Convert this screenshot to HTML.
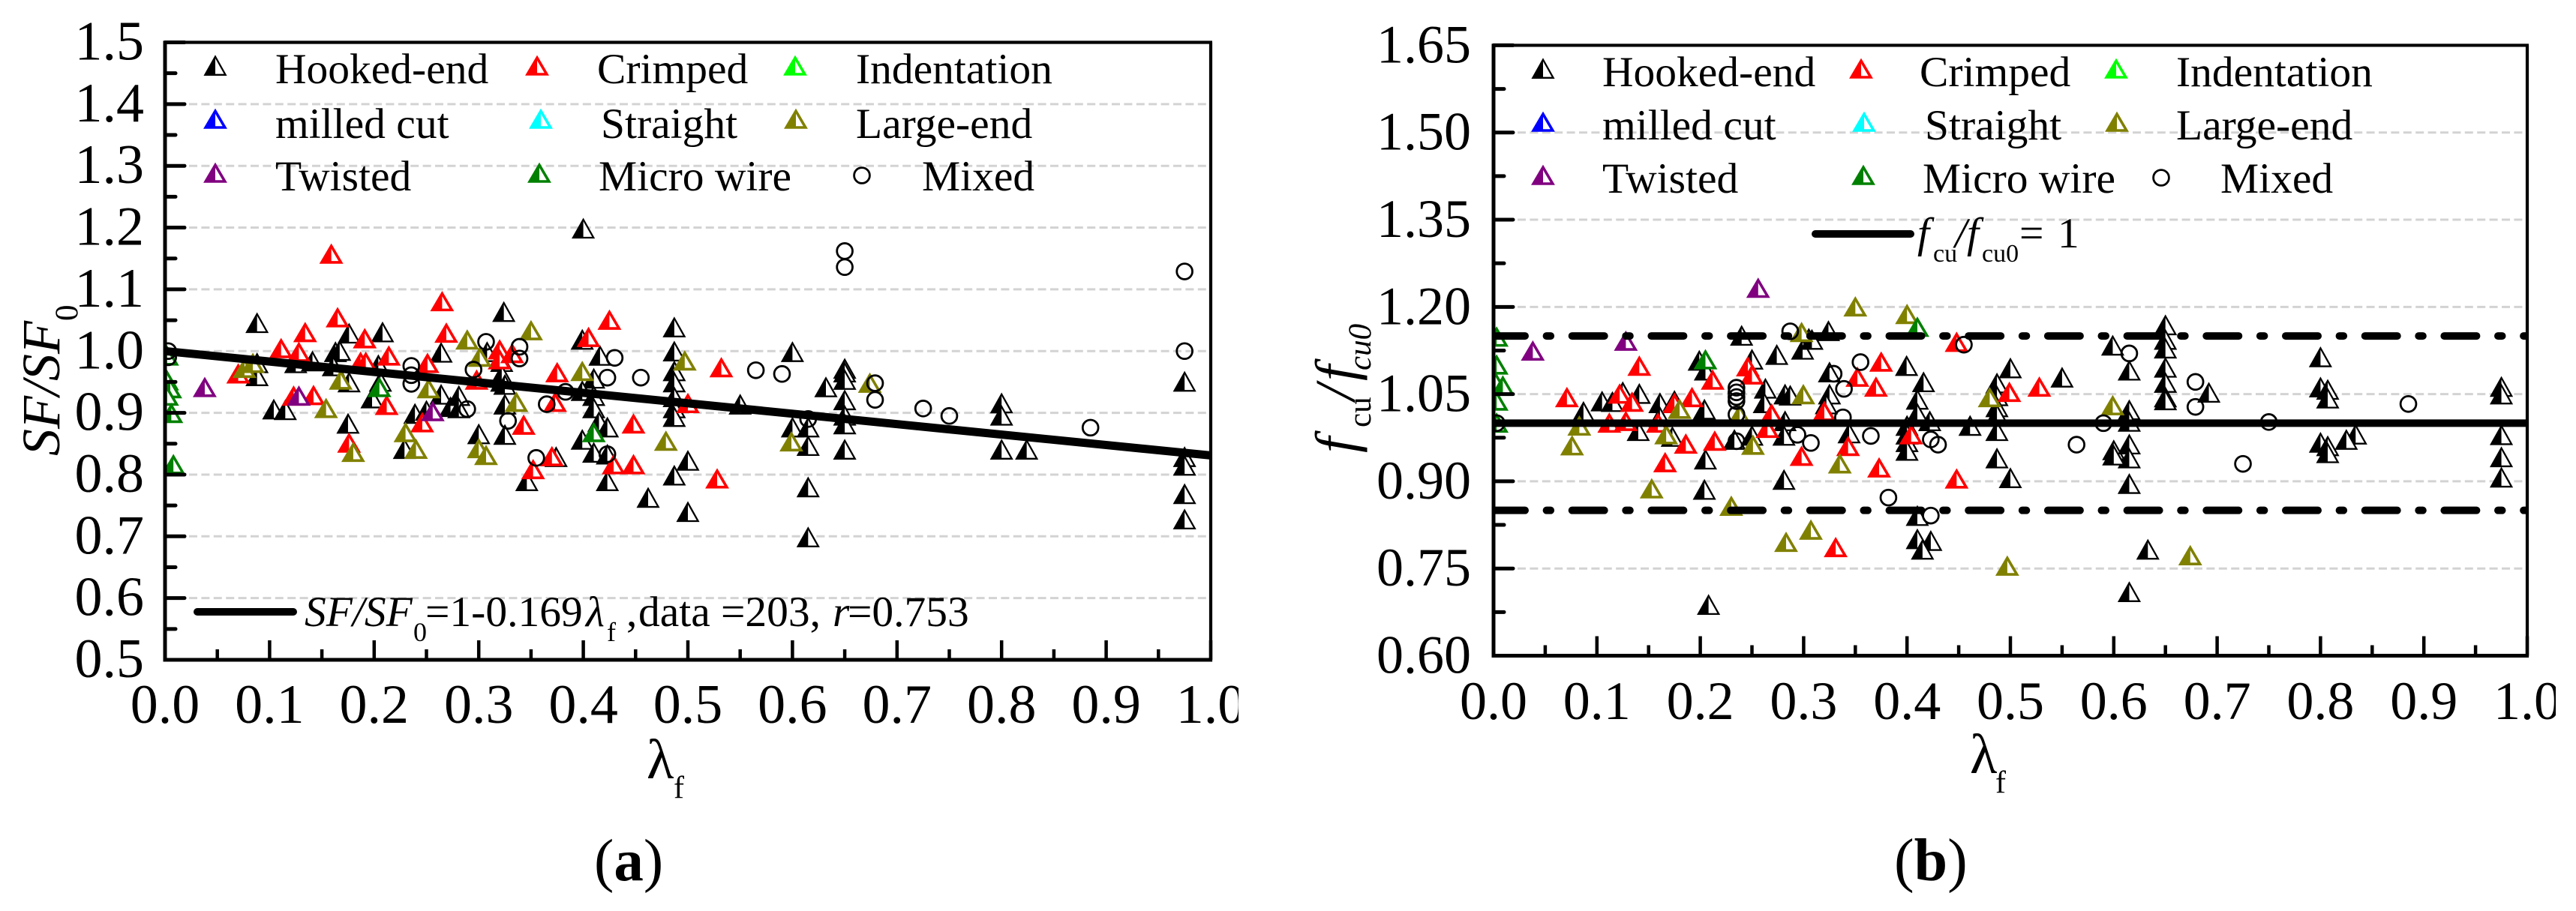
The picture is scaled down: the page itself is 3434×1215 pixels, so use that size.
<!DOCTYPE html>
<html lang="en">
<head>
<meta charset="utf-8">
<title>SF/SF0 and fcu/fcu0 versus fibre factor</title>
<style>
html,body{margin:0;padding:0;background:#fff;width:3434px;height:1215px;overflow:hidden}
svg{display:block}
text{font-family:"Liberation Serif","Times New Roman",serif;fill:#000}
.leg{font-size:57.5px}
</style>
</head>
<body>
<svg id="fig" xmlns="http://www.w3.org/2000/svg" width="3434" height="1215" viewBox="0 0 3434 1215">
<defs>
<clipPath id="clipA"><rect x="221" y="57" width="1393" height="823"/></clipPath>
<clipPath id="clipB"><rect x="1991" y="61" width="1378" height="813.5"/></clipPath>
<clipPath id="clipAT"><rect x="0" y="0" width="1651" height="1215"/></clipPath>
<clipPath id="clipBT"><rect x="0" y="0" width="3407" height="1215"/></clipPath>
</defs>
<rect x="0" y="0" width="3434" height="1215" fill="#fff"/>

<g id="chartA">
  <g id="gridA"></g>
  <g id="marksA" clip-path="url(#clipA)"></g>
  <g id="lineA" clip-path="url(#clipA)"></g>
  <g id="axesA"></g>
  <g id="legendMarksA"></g>
  <g>
    <text class="leg" x="367" y="111">Hooked-end</text>
    <text class="leg" x="796" y="111">Crimped</text>
    <text class="leg" x="1141" y="111">Indentation</text>
    <text class="leg" x="367" y="184">milled cut</text>
    <text class="leg" x="801" y="184">Straight</text>
    <text class="leg" x="1141" y="184">Large-end</text>
    <text class="leg" x="367" y="254">Twisted</text>
    <text class="leg" x="798" y="254">Micro wire</text>
    <text class="leg" x="1229" y="254">Mixed</text>
  </g>
  <line x1="263" y1="816" x2="391" y2="816" stroke="#000" stroke-width="10" stroke-linecap="round"/>
  <text class="leg" y="835"><tspan x="406" font-style="italic">SF/SF</tspan><tspan x="551" y="855" font-size="36">0</tspan><tspan x="567" y="835">=1-0.169</tspan><tspan x="781" font-style="italic">λ</tspan><tspan x="809" y="855" font-size="36">f</tspan><tspan x="835" y="835">,</tspan><tspan x="851">data</tspan><tspan x="961">=203,</tspan><tspan x="1110" font-style="italic">r</tspan><tspan x="1130">=0.753</tspan></text>
  <text transform="translate(79,608) rotate(-90)" font-size="72"><tspan font-style="italic">SF/SF</tspan><tspan font-size="43" dy="24">0</tspan></text>
  <text y="1038" font-size="75"><tspan x="862">λ</tspan><tspan x="898" y="1064" font-size="42">f</tspan></text>
  <text x="792" y="1174" font-size="79">(<tspan font-weight="bold">a</tspan>)</text>
</g>

<g id="chartB">
  <g id="gridB"></g>
  <g id="marksB" clip-path="url(#clipB)"></g>
  <g id="lineB" clip-path="url(#clipB)"></g>
  <g id="axesB"></g>
  <g id="legendMarksB"></g>
  <g>
    <text class="leg" x="2136" y="115">Hooked-end</text>
    <text class="leg" x="2559" y="115">Crimped</text>
    <text class="leg" x="2901" y="115">Indentation</text>
    <text class="leg" x="2136" y="186">milled cut</text>
    <text class="leg" x="2566" y="186">Straight</text>
    <text class="leg" x="2901" y="186">Large-end</text>
    <text class="leg" x="2136" y="257">Twisted</text>
    <text class="leg" x="2563" y="257">Micro wire</text>
    <text class="leg" x="2960" y="257">Mixed</text>
  </g>
  <line x1="2420" y1="312" x2="2547" y2="312" stroke="#000" stroke-width="10" stroke-linecap="round"/>
  <text class="leg" y="330"><tspan x="2556" font-style="italic">f</tspan><tspan x="2577" y="349" font-size="34">cu</tspan><tspan x="2606" y="330" font-style="italic">/f</tspan><tspan x="2642" y="349" font-size="34">cu0</tspan><tspan x="2692" y="330">=</tspan><tspan x="2743">1</tspan></text>
  <text transform="translate(1806,604) rotate(-90)" font-size="76"><tspan x="0" font-style="italic">f</tspan><tspan x="34" font-size="43" dy="21">cu</tspan><tspan x="70" font-style="italic" dy="-21">/</tspan><tspan x="96" font-style="italic">f</tspan><tspan x="110" font-size="43" font-style="italic" dy="21">cu0</tspan></text>
  <text y="1031" font-size="75"><tspan x="2626">λ</tspan><tspan x="2660" y="1057" font-size="42">f</tspan></text>
  <text x="2525" y="1174" font-size="80">(<tspan font-weight="bold">b</tspan>)</text>
</g>
</svg>

<script>
// ---------- Panel (a) tick labels ----------
const aYTickLabels = ['1.5','1.4','1.3','1.2','1.1','1.0','0.9','0.8','0.7','0.6','0.5'];
const aXTickLabels = ['0.0','0.1','0.2','0.3','0.4','0.5','0.6','0.7','0.8','0.9','1.0'];
const aFit = [1, -0.169];

// ---------- Panel (a) series: SF/SF0 vs fibre factor ----------
const aHookedX = [.088,.088,.088,.125,.141,.176,.163,.167,.161,.176,.208,.204,.206,.198,.104,.115,.175,.229,.264,.239,.25,.264,.273,.281,.281,.324,.40,.322,.487,.487,.487,.487,.487,.487,.487,.55,.399,.416,.41,.399,.41,.41,.415,.423,.399,.41,.423,.423,.5,.487,.462,.5,.346,.374,.325,.325,.3,.322,.322,.325,.308,.60,.65,.65,.65,.65,.65,.65,.632,.80,.80,.60,.615,.975,.615,.65,.8,.824,.615,.615,.975,.975,.975,.975];
const aHookedY = [1.045,.980,.959,.98,.983,1.028,.998,1.0,.975,.949,1.03,.977,.95,.923,.905,.904,.882,.841,.997,.898,.903,.929,.909,.927,.907,1.063,1.198,.95,1.038,.999,.967,.949,.925,.907,.893,.913,1.018,.992,.955,.935,.927,.907,.885,.876,.856,.835,.832,.789,.822,.798,.762,.739,.789,.828,.913,.864,.865,.982,.961,.945,.998,.998,.971,.965,.953,.92,.895,.881,.941,.915,.895,.876,.876,.95,.846,.84,.84,.84,.779,.698,.828,.814,.768,.727];
const aCrimpedX = [.07,.111,.134,.128,.123,.142,.176,.191,.187,.192,.214,.212,.269,.251,.246,.159,.165,.265,.425,.405,.32,.32,.332,.298,.375,.343,.532,.5,.448,.429,.448,.37,.352,.528,.373];
const aCrimpedY = [.963,1.004,1.03,.998,.927,.928,.851,1.02,.982,.982,.992,.912,1.029,.98,.884,1.157,1.054,1.08,1.05,1.022,1.002,.986,.996,.953,.965,.88,.973,.915,.882,.816,.816,.829,.808,.793,.917];
const aLargeX = [.076,.084,.168,.154,.18,.252,.23,.24,.289,.35,.301,.336,.3,.307,.399,.497,.479,.674,.599];
const aLargeY = [.972,.98,.953,.907,.836,.939,.868,.841,1.018,1.033,.99,.917,.842,.831,.967,.984,.854,.948,.853];
const aTwistedX = [.038,.128,.256];
const aTwistedY = [.941,.927,.902];
const aMicroX = [.002,.002,.005,.002,.006,.008,.205,.41];
const aMicroY = [.992,.952,.939,.927,.899,.816,.941,.868];
const aMixedX = [.2355,.2355,.2355,.003,.003,.307,.339,.339,.295,.383,.365,.328,.43,.423,.455,.355,.423,.289,.565,.59,.65,.65,.975,.975,.679,.679,.725,.75,.885,.615];
const aMixedY = [.976,.961,.947,1.0,.99,1.015,1.007,.988,.97,.934,.914,.887,.989,.957,.957,.827,.833,.906,.969,.963,1.162,1.136,1.129,1.0,.948,.921,.907,.895,.876,.89];

// ---------- Panel (b) tick labels ----------
const bYTickLabels = ['1.65','1.50','1.35','1.20','1.05','0.90','0.75','0.60'];
const bXTickLabels = ['0.0','0.1','0.2','0.3','0.4','0.5','0.6','0.7','0.8','0.9','1.0'];
const bRefSolid = [1.0];
const bRefDashDot = [1.15, 0.85];

// ---------- Panel (b) series: fcu/fcu0 vs fibre factor ----------
const bHookedX = [.087,.105,.115,.125,.141,.14,.161,.175,.161,.173,.204,.205,.204,.199,.205,.233,.25,.274,.263,.262,.282,.282,.281,.281,.25,.24,.324,.305,.299,.308,.325,.325,.322,.287,.344,.3996,.416,.41,.41,.422,.4,.4,.4,.4,.5,.487,.487,.487,.487,.487,.487,.5,.461,.55,.41,.41,.423,.415,.599,.615,.65,.65,.65,.65,.65,.65,.65,.692,.80,.80,.807,.807,.615,.615,.975,.975,.975,.834,.825,.8,.807,.6,.615,.615,.615,.6,.975,.975,.807,.633,.615,.208];
const bHookedY = [1.019,1.037,1.036,1.053,1.05,.986,1.034,1.038,1.01,.976,1.023,.937,.885,1.107,1.09,.971,1.109,1.117,1.059,1.034,1.049,1.003,.978,.902,.978,1.15,1.158,1.145,1.126,1.143,1.087,1.049,1.032,1.047,.982,1.098,1.07,1.04,1.016,1.003,.995,.98,.967,.952,1.094,1.068,1.046,1.027,1.014,.986,.939,.905,.995,1.078,.84,.8,.797,.782,1.133,1.09,1.168,1.143,1.128,1.095,1.069,1.044,1.039,1.052,1.113,1.061,1.057,1.042,1.022,1.002,1.062,1.049,.979,.98,.971,.966,.96,.953,.963,.895,.939,.944,.941,.906,.948,.782,.709,.687];
const bCrimpedX = [.141,.071,.112,.128,.122,.134,.159,.175,.192,.186,.166,.214,.212,.246,.25,.269,.265,.375,.352,.37,.32,.343,.298,.373,.448,.404,.448,.499,.528,.331];
const bCrimpedY = [1.098,1.044,1.0,1.003,1.05,1.036,1.0,1.034,1.044,.964,.932,.969,1.074,1.097,1.083,1.016,.991,1.105,1.079,1.062,1.02,.96,.943,.923,.904,.98,1.139,1.053,1.062,.786];
const bLargeX = [.083,.076,.18,.167,.153,.23,.238,.251,.283,.2997,.48,.335,.307,.298,.35,.4,.599,.497,.674];
const bLargeY = [.995,.961,1.024,.98,.887,.857,1.014,.962,.795,1.049,1.044,.93,.816,1.156,1.2,1.187,1.03,.754,.772];
const bTwistedX = [.038,.128,.256];
const bTwistedY = [1.124,1.141,1.232];
const bMicroX = [.003,.003,.002,.009,.003,.003,.205,.41];
const bMicroY = [1.148,1.1,1.07,1.064,1.038,1.0,1.109,1.165];
const bMixedX = [.235,.235,.235,.235,.235,.235,.287,.355,.329,.339,.338,.294,.307,.365,.423,.43,.455,.382,.423,.615,.679,.679,.75,.885,.564,.59,.725,.003];
const bMixedY = [1.061,1.053,1.045,1.038,1.015,.969,1.158,1.105,1.085,1.059,1.01,.98,.966,.978,.972,.963,1.135,.872,.841,1.12,1.071,1.028,1.002,1.033,.963,1.0,.93,1.0];

// ---------- Axis functions ----------
function xA(v){ return 220 + v * 1394; }
function yA(v){ return 880 - (v - 0.5) * 823.5; }
function xB(v){ return 1991 + v * 1378; }
function yB(v){ return 874.5 - (v - 0.6) * 775.3; }

const SVGNS = 'http://www.w3.org/2000/svg';
function mk(tag, attrs, parent){
  const el = document.createElementNS(SVGNS, tag);
  for (const k in attrs) el.setAttribute(k, attrs[k]);
  parent.appendChild(el);
  return el;
}
function tag(el, name){
  
  
  return el;
}
function triangle(parent, px, py, color, name){
  const thin = color === '#000000';
  const hw = thin ? 13.6 : 12.8, top = thin ? 12.4 : 10.8, bot = thin ? 11.8 : 11;
  const g = mk('g', {transform:'translate(' + px + ',' + py + ')'}, parent);
  tag(g, name);
  mk('polygon', {points:'0,' + (-top) + ' ' + (-hw) + ',' + bot + ' ' + hw + ',' + bot, fill:'#ffffff', stroke:color, 'stroke-width': thin ? 2.3 : 3.6}, g);
  mk('polygon', {points:'0,' + (-top) + ' ' + (-hw) + ',' + bot + ' 0,' + bot, fill:color}, g);
}
function circle(parent, px, py, name){
  const c = mk('circle', {cx:px, cy:py, r:10.4, fill:'none', stroke:'#000000', 'stroke-width':2.8}, parent);
  tag(c, name);
}
function series(parent, xs, ys, fx, fy, color, name){
  for (let i = 0; i < xs.length; i++){
    const n = name + '-point-' + (i + 1);
    if (color) triangle(parent, fx(xs[i]), fy(ys[i]), color, n);
    else circle(parent, fx(xs[i]), fy(ys[i]), n);
  }
}
function line(parent, x1, y1, x2, y2, w, color, cap, name, dash){
  const l = mk('line', {x1:x1, y1:y1, x2:x2, y2:y2, stroke:color, 'stroke-width':w, 'stroke-linecap':cap}, parent);
  if (dash) l.setAttribute('stroke-dasharray', dash);
  tag(l, name);
  return l;
}
function label(parent, x, y, str, size, anchor, name, clip){
  const t = mk('text', {x:x, y:y, 'font-size':size, 'text-anchor':anchor}, parent);
  if (clip) t.setAttribute('clip-path', clip);
  t.textContent = str;
  tag(t, name);
}

function axes(opt){
  const g = opt.axes, grid = opt.grid;
  const yv = opt.yLabels.map(parseFloat), xv = opt.xLabels.map(parseFloat);
  const yStep = Math.abs(yv[1] - yv[0]), xStep = Math.abs(xv[1] - xv[0]);
  const L = opt.fx(0), R = opt.fx(1), T = opt.fy(yv[0]), B = opt.fy(yv[yv.length - 1]);
  yv.forEach(function(v, i){
    const y = opt.fy(v);
    if (i > 0 && i < yv.length - 1) line(grid, L + 32, y, R, y, 3, '#d3d3d3', 'butt', 'gridline-' + opt.yLabels[i], '11 5.4');
    line(g, L, y, L + 26, y, 5, '#000', 'round', 'y-tick-' + opt.yLabels[i]);
    label(g, opt.yLabelX, y + 23, opt.yLabels[i], opt.fontSize, 'end', 'y-tick-label-' + opt.yLabels[i]);
    if (i < yv.length - 1){
      const my = opt.fy(v - yStep / 2);
      line(g, L, my, L + 14, my, 5, '#000', 'round', 'y-minor-tick');
    }
  });
  xv.forEach(function(v, i){
    const x = opt.fx(v);
    line(g, x, B, x, B - 26, 4.5, '#000', 'butt', 'x-tick-' + opt.xLabels[i]);
    label(g, x, opt.xLabelY, opt.xLabels[i], opt.fontSize, 'middle', 'x-tick-label-' + opt.xLabels[i], i === xv.length - 1 ? opt.lastClip : null);
    if (i < xv.length - 1){
      const mx = opt.fx(v + xStep / 2);
      line(g, mx, B, mx, B - 14, 4.5, '#000', 'butt', 'x-minor-tick');
    }
  });
  line(g, L, T, L, B + 2.5, 5, '#000', 'butt', 'y-axis-line');
  line(g, L - 2.5, B, R + 2, B, 5, '#000', 'butt', 'x-axis-line');
  line(g, L - 2.5, T, R + 2, T, 4.2, '#000', 'butt', 'top-border');
  line(g, R, T, R, B + 2.5, 4.2, '#000', 'butt', 'right-border');
}

const BLACK = '#000000', RED = '#ff0000', LIME = '#00ff00', BLUE = '#0000ff', CYAN = '#00ffff', OLIVE = '#808000', PURPLE = '#800080', GREEN = '#008000';

// ---------- Panel (a) ----------
const gA = document.getElementById('marksA');
axes({axes:document.getElementById('axesA'), grid:document.getElementById('gridA'), fx:xA, fy:yA,
      yLabels:aYTickLabels, xLabels:aXTickLabels, yLabelX:192, xLabelY:964, fontSize:74, lastClip:'url(#clipAT)'});
series(gA, aHookedX, aHookedY, xA, yA, BLACK, 'hooked-end');
series(gA, aCrimpedX, aCrimpedY, xA, yA, RED, 'crimped');
series(gA, aLargeX, aLargeY, xA, yA, OLIVE, 'large-end');
series(gA, aTwistedX, aTwistedY, xA, yA, PURPLE, 'twisted');
series(gA, aMicroX, aMicroY, xA, yA, GREEN, 'micro-wire');
series(gA, aMixedX, aMixedY, xA, yA, null, 'mixed');
line(document.getElementById('lineA'), xA(0), yA(aFit[0]), xA(1), yA(aFit[0] + aFit[1]), 11, '#000', 'butt', 'fit-line');

const lA = document.getElementById('legendMarksA');
triangle(lA, 287, 88, BLACK, 'legend-marker-hooked-end');
triangle(lA, 716, 88, RED, 'legend-marker-crimped');
triangle(lA, 1060, 88, LIME, 'legend-marker-indentation');
triangle(lA, 287, 159, BLUE, 'legend-marker-milled-cut');
triangle(lA, 721, 159, CYAN, 'legend-marker-straight');
triangle(lA, 1061, 159, OLIVE, 'legend-marker-large-end');
triangle(lA, 287, 231, PURPLE, 'legend-marker-twisted');
triangle(lA, 719, 231, GREEN, 'legend-marker-micro-wire');
circle(lA, 1149, 234, 'legend-marker-mixed');

// ---------- Panel (b) ----------
const gB = document.getElementById('marksB');
axes({axes:document.getElementById('axesB'), grid:document.getElementById('gridB'), fx:xB, fy:yB,
      yLabels:bYTickLabels, xLabels:bXTickLabels, yLabelX:1961, xLabelY:959, fontSize:72, lastClip:'url(#clipBT)'});
series(gB, bHookedX, bHookedY, xB, yB, BLACK, 'hooked-end');
series(gB, bCrimpedX, bCrimpedY, xB, yB, RED, 'crimped');
series(gB, bLargeX, bLargeY, xB, yB, OLIVE, 'large-end');
series(gB, bTwistedX, bTwistedY, xB, yB, PURPLE, 'twisted');
series(gB, bMicroX, bMicroY, xB, yB, GREEN, 'micro-wire');
series(gB, bMixedX, bMixedY, xB, yB, null, 'mixed');
const refG = document.getElementById('lineB');
bRefSolid.forEach(function(v){
  line(refG, xB(0), yB(v), xB(1), yB(v), 10, '#000', 'butt', 'reference-line-solid');
});
bRefDashDot.forEach(function(v){
  line(refG, xB(0) - 1, yB(v), xB(1), yB(v), 10, '#000', 'round', 'reference-line-dash-dot', '43 28.6 5.5 28.6');
});

const lB = document.getElementById('legendMarksB');
triangle(lB, 2057, 92, BLACK, 'legend-marker-hooked-end');
triangle(lB, 2481, 92, RED, 'legend-marker-crimped');
triangle(lB, 2821, 92, LIME, 'legend-marker-indentation');
triangle(lB, 2057, 163, BLUE, 'legend-marker-milled-cut');
triangle(lB, 2485, 163, CYAN, 'legend-marker-straight');
triangle(lB, 2822, 163, OLIVE, 'legend-marker-large-end');
triangle(lB, 2057, 234, PURPLE, 'legend-marker-twisted');
triangle(lB, 2484, 234, GREEN, 'legend-marker-micro-wire');
circle(lB, 2881, 237, 'legend-marker-mixed');
</script>
</body>
</html>
